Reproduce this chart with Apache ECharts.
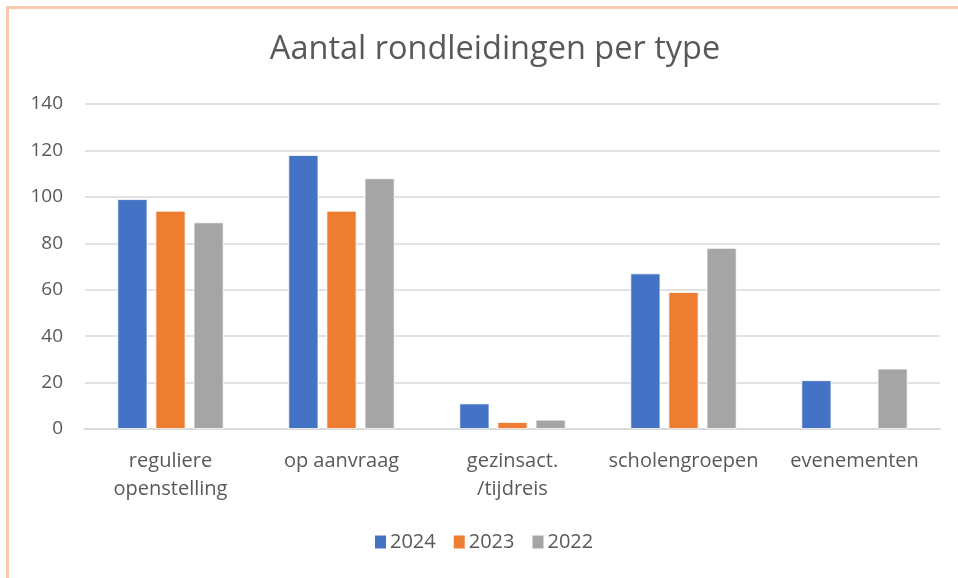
<!DOCTYPE html>
<html>
<head>
<meta charset="utf-8">
<script src="https://cdn.jsdelivr.net/npm/echarts@6/dist/echarts.min.js"></script>
<style>
  html, body { margin: 0; padding: 0; background: #fff; }
  #frame { position: absolute; left: 6px; top: 6px; width: 960px; height: 580px;
           border-left: 3px solid #f8cbad; border-top: 3px solid #f8cbad; box-sizing: border-box; }
  #chart { position: absolute; left: 0; top: 0; width: 958px; height: 578px; }
</style>
</head>
<body>
<div id="frame"></div>
<div id="chart"></div>
<script>
// categorieën en waarden per jaar
const categories = ['reguliere\nopenstelling', 'op aanvraag', 'gezinsact.\n/tijdreis', 'scholengroepen', 'evenementen'];
const years = ['2024', '2023', '2022'];
const values2024 = [99, 118, 11, 67, 21];
const values2023 = [94, 94, 3, 59, null];
const values2022 = [89, 108, 4, 78, 26];
const colors = ['#4472c4', '#ed7d31', '#a5a5a5'];

const font = 'Open Sans';
const chart = echarts.init(document.getElementById('chart'));

const seriesData = [values2024, values2023, values2022];

chart.setOption({
    animation: false,
    textStyle: { fontFamily: font },
    title: {
        text: 'Aantal rondleidingen per type',
        left: 490,
        textAlign: 'center',
        top: 28,
        textStyle: { fontSize: 32.5, fontWeight: 'normal', color: '#595959', fontFamily: font }
    },
    legend: {
        bottom: 21,
        left: 368,
        itemWidth: 13,
        itemHeight: 15,
        itemGap: 16,
        icon: 'rect',
        textStyle: { fontSize: 20, color: '#595959', fontFamily: font, padding: [0, 0, 0, -2] },
        data: years
    },
    grid: { left: 85, right: 18, top: 104, bottom: 149, containLabel: false },
    xAxis: {
        type: 'category',
        data: categories,
        axisLine: { lineStyle: { color: '#d9d9d9', width: 2 } },
        axisTick: { show: false },
        axisLabel: { fontSize: 20, color: '#595959', lineHeight: 28, margin: 18, interval: 0 }
    },
    yAxis: {
        type: 'value',
        min: 0,
        max: 140,
        interval: 20,
        axisLine: { show: false },
        axisTick: { show: false },
        axisLabel: { fontSize: 19, color: '#595959', margin: 22 },
        splitLine: { lineStyle: { color: '#d9d9d9', width: 1.5 } }
    },
    series: years.map((y, i) => ({
        name: y,
        type: 'bar',
        data: seriesData[i],
        barWidth: 30,
        barGap: '27%',
        itemStyle: { color: colors[i], borderColor: '#fff', borderWidth: 0.8 }
    }))
});
</script>
</body>
</html>
